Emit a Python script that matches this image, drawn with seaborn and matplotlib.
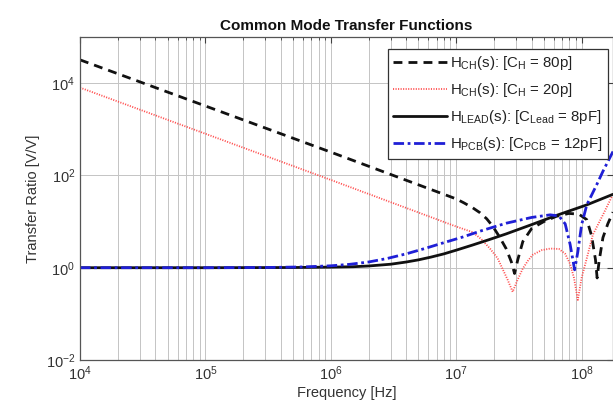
import numpy as np
import pandas as pd
import matplotlib
matplotlib.use("Agg")
import matplotlib.pyplot as plt
import matplotlib.ticker as mticker
import seaborn as sns

# ---- data (frequency in Hz, transfer ratio V/V) ----
f_ch80 = [1e4, 1e5, 1e6, 1e7, 1.15e7, 1.35e7, 1.55e7, 1.75e7, 1.95e7, 2.2e7,
          2.5e7, 2.75e7, 2.92e7, 3.1e7, 3.4e7, 4.0e7, 5.0e7, 6.3e7, 7.9e7,
          9.5e7, 1.1e8, 1.2e8, 1.29e8, 1.33e8, 1.38e8, 1.48e8, 1.62e8, 1.78e8]
h_ch80 = [3.2e4, 3.2e3, 320, 31, 25.5, 20, 15.5, 11.5, 8.0, 4.8,
          2.6, 1.35, 0.75, 1.5, 3.7, 7.1, 10, 13, 15,
          14.5, 11, 5.0, 1.5, 0.6, 1.4, 4.5, 9.0, 16]

f_ch20 = [1e4, 1e5, 1e6, 1e7, 1.35e7, 1.58e7, 1.86e7, 2.14e7, 2.34e7, 2.57e7,
          2.82e7, 3.09e7, 3.39e7, 3.72e7, 4.07e7, 4.8e7, 5.62e7, 6.6e7, 7.4e7,
          8.1e7, 8.7e7, 9.33e7, 1.0e8, 1.1e8, 1.23e8, 1.48e8, 1.78e8]
h_ch20 = [8000, 800, 80, 7.8, 5.9, 4.2, 2.6, 1.6, 0.95, 0.55,
          0.3, 0.55, 0.95, 1.4, 1.9, 2.4, 2.6, 2.55, 2.0,
          1.2, 0.6, 0.2, 0.6, 1.6, 5.2, 14, 39]

f_lead = [1e4, 1e5, 5e5, 1e6, 1.5e6, 2e6, 3e6, 4e6, 5e6, 6.3e6, 8e6, 1e7,
          1.35e7, 1.8e7, 2.5e7, 4e7, 6.3e7, 1.1e8, 1.78e8]
h_lead = [1.0, 1.0, 1.01, 1.03, 1.05, 1.09, 1.19, 1.33, 1.48, 1.7, 2.0, 2.4,
          3.1, 4.0, 5.4, 8.6, 13.6, 23, 39]

f_pcb = [1e4, 1e5, 3e5, 6e5, 1e6, 1.4e6, 2e6, 2.8e6, 4e6, 5.6e6, 8e6, 1.12e7,
         1.58e7, 2.5e7, 4e7, 5.62e7, 6.6e7, 7.4e7, 8.1e7, 8.8e7, 9.33e7,
         1.0e8, 1.1e8, 1.32e8, 1.48e8, 1.78e8]
h_pcb = [1.0, 1.0, 1.01, 1.04, 1.1, 1.18, 1.33, 1.58, 2.0, 2.6, 3.5, 4.6,
         6.3, 9.2, 12.3, 14, 13.2, 8.9, 3.2, 0.9, 2.2,
         8.5, 23, 63, 123, 330]

labels = [r"H$_{\mathregular{CH}}$(s): [C$_{\mathregular{H}}$ = 80p]",
          r"H$_{\mathregular{CH}}$(s): [C$_{\mathregular{H}}$ = 20p]",
          r"H$_{\mathregular{LEAD}}$(s): [C$_{\mathregular{Lead}}$ = 8pF]",
          r"H$_{\mathregular{PCB}}$(s): [C$_{\mathregular{PCB}}$ = 12pF]"]

title = "Common Mode Transfer Functions"
xlabel = "Frequency [Hz]"
ylabel = "Transfer Ratio [V/V]"

# ---- styling ----
sns.set_theme(style="white")
plt.rcParams["font.family"] = ["Liberation Sans", "DejaVu Sans"]
plt.rcParams["mathtext.fontset"] = "custom"
plt.rcParams["mathtext.rm"] = "Liberation Sans"
plt.rcParams["mathtext.it"] = "Liberation Sans"
plt.rcParams["mathtext.bf"] = "Liberation Sans:bold"

fig = plt.figure(figsize=(6.13, 4.18), dpi=100)
ax = fig.add_axes([80 / 613, 1 - 360 / 418, 1 - 80 / 613, (360 - 37) / 418])

series = [
    (f_ch80, h_ch80, dict(color="#111111", linestyle=(0, (3.2, 2.2)), linewidth=2.0)),
    (f_ch20, h_ch20, dict(color="#ff4d4d", linestyle=(0, (0.6, 0.8)), linewidth=1.3)),
    (f_lead, h_lead, dict(color="#111111", linestyle="-", linewidth=2.0)),
    (f_pcb, h_pcb, dict(color="#1f1fd6", linestyle=(0, (3.8, 1.3, 1.0, 1.3)), linewidth=2.0)),
]
for (fx, hy, st), lab in zip(series, labels):
    df = pd.DataFrame({"f": fx, "h": hy})
    sns.lineplot(data=df, x="f", y="h", ax=ax, sort=False, estimator=None,
                 label=lab, **st)

ax.set_xscale("log")
ax.set_yscale("log")
ax.set_xlim(1e4, 1.78e8)
ax.set_ylim(1e-2, 1e5)
ax.set_yticks([1e-2, 1e0, 1e2, 1e4])
ax.set_xticks([1e4, 1e5, 1e6, 1e7, 1e8])
ax.xaxis.set_minor_locator(mticker.LogLocator(base=10, subs=np.arange(2, 10), numticks=20))
ax.yaxis.set_minor_locator(mticker.NullLocator())
ax.xaxis.set_minor_formatter(mticker.NullFormatter())

ax.grid(True, which="major", axis="both", color="#c4c4c4", linewidth=0.7)
ax.grid(True, which="minor", axis="x", color="#c4c4c4", linewidth=0.7)
ax.set_axisbelow(True)

ax.tick_params(which="both", direction="in", top=True, right=True, colors="#404040",
               labelcolor="#333333", labelsize=10.5)
ax.tick_params(which="major", length=4, width=0.8)
ax.tick_params(which="minor", length=2.5, width=0.6)
for sp in ax.spines.values():
    sp.set_color("#555555")
    sp.set_linewidth(0.9)

ax.set_xlabel(xlabel, fontsize=10.5, color="#333333", labelpad=2)
ax.set_ylabel(ylabel, fontsize=10.5, color="#333333", labelpad=4)
ax.set_title(title, fontsize=11, fontweight="bold", color="#111111", pad=5)

leg = ax.legend(loc="upper right", bbox_to_anchor=((608 - 80) / 533, 1 - 12 / 323),
                bbox_transform=ax.transAxes, frameon=True, fancybox=False,
                fontsize=10.8, handlelength=3.6, handletextpad=0.2, labelspacing=0.6,
                borderpad=0.35, borderaxespad=0)
leg.get_frame().set_edgecolor("#333333")
leg.get_frame().set_linewidth(0.9)
leg.get_frame().set_alpha(1)
for t in leg.get_texts():
    t.set_color("#222222")

fig.savefig("out.png", dpi=100)
